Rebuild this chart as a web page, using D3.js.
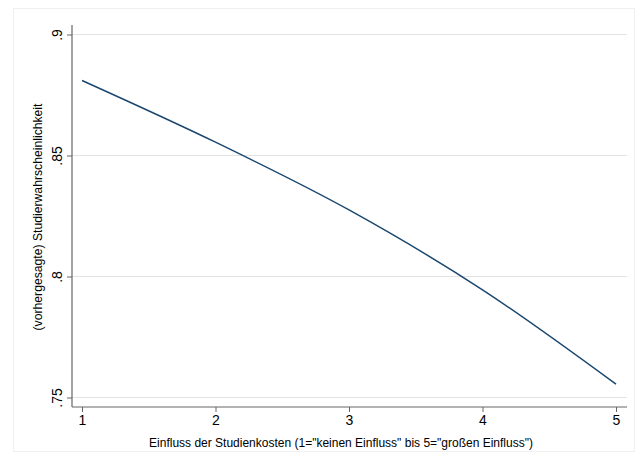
<!DOCTYPE html>
<html><head><meta charset="utf-8">
<script src="https://cdn.jsdelivr.net/npm/d3@7"></script>
<style>body{margin:0;background:#fff}svg{display:block}text{font-family:"Liberation Sans",Arial,sans-serif;fill:#000}</style>
</head><body>
<script>
const xValues = [1, 2, 3, 4, 5];
const yValues = [0.881, 0.8555, 0.8275, 0.7945, 0.7555];
const xTicks = [1, 2, 3, 4, 5];
const yTicks = [0.75, 0.8, 0.85, 0.9];
const yTickLabels = [".75", ".8", ".85", ".9"];
const xTitle = 'Einfluss der Studienkosten (1="keinen Einfluss" bis 5="großen Einfluss")';
const yTitle = "(vorhergesagte) Studierwahrscheinlichkeit";

const W = 635, H = 462;
const svg = d3.select("body").append("svg").attr("width", W).attr("height", H);
svg.append("rect").attr("x", 13.5).attr("y", 8.5).attr("width", W - 14).attr("height", 443)
  .attr("fill", "#fff").attr("stroke", "#f0f0f0");

const x = d3.scaleLinear().domain([1, 5]).range([82, 616]);
const y = d3.scaleLinear().domain([0.75, 0.9]).range([397.5, 34.5]);
const left = 72, right = 627, bottom = 407;

// gridlines
svg.append("g").selectAll("line").data(yTicks).join("line")
  .attr("x1", left).attr("x2", right)
  .attr("y1", d => y(d)).attr("y2", d => y(d))
  .attr("stroke", "#e3e3e3").attr("stroke-width", 1);

// y axis
const yAxis = d3.axisLeft(y).tickValues(yTicks).tickSize(5).tickPadding(4)
  .tickFormat((d, i) => yTickLabels[i]);
const gy = svg.append("g").attr("transform", `translate(${left},0)`).call(yAxis);
gy.select(".domain").attr("d", `M0,${25}V${bottom}`).attr("stroke", "#666").attr("stroke-width", 1.2);
gy.selectAll(".tick line").attr("stroke", "#666");
gy.selectAll(".tick text").attr("font-size", 14).attr("text-anchor", "middle")
  .attr("x", 0).attr("dy", 0)
  .attr("transform", "translate(-10,0) rotate(-90)")
  .attr("y", 0);

// x axis
const xAxis = d3.axisBottom(x).tickValues(xTicks).tickSize(5).tickPadding(3).tickFormat(d3.format("d"));
const gx = svg.append("g").attr("transform", `translate(0,${bottom})`).call(xAxis);
gx.select(".domain").attr("d", `M${left},0H${right}`).attr("stroke", "#666").attr("stroke-width", 1.2);
gx.selectAll(".tick line").attr("stroke", "#666");
gx.selectAll(".tick text").attr("font-size", 14);

// titles
svg.append("text").attr("x", 341).attr("y", 447).attr("text-anchor", "middle")
  .attr("font-size", 12).text(xTitle);
svg.append("text").attr("transform", `translate(42,217) rotate(-90)`)
  .attr("text-anchor", "middle").attr("font-size", 12.2).text(yTitle);

// line
const data = xValues.map((v, i) => [v, yValues[i]]);
svg.append("path").datum(data)
  .attr("d", d3.line().x(d => x(d[0])).y(d => y(d[1])).curve(d3.curveMonotoneX))
  .attr("fill", "none").attr("stroke", "#1a476f").attr("stroke-width", 1.5);
</script>
</body></html>
